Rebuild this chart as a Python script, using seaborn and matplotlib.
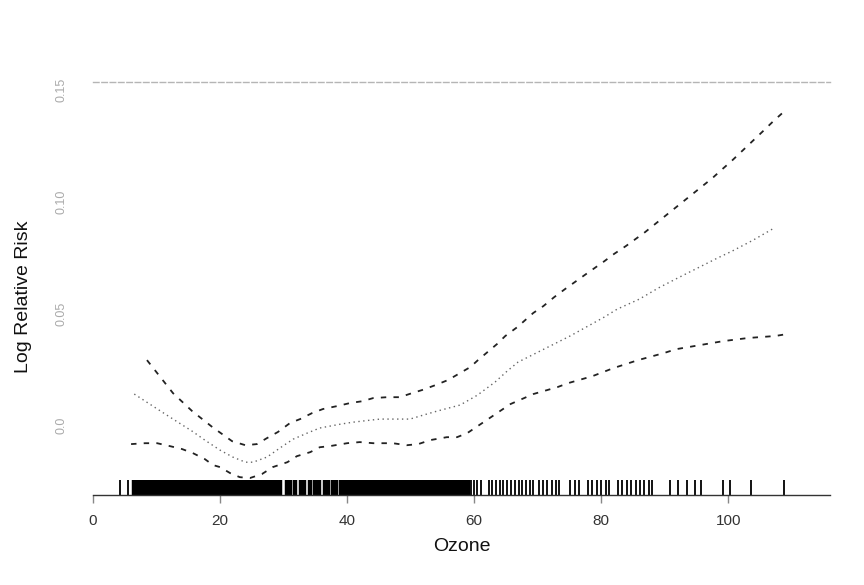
import pandas as pd
import numpy as np
import seaborn as sns
import matplotlib.pyplot as plt

# smooth fit of ozone effect: estimate and pointwise bands
fit_ozone = [6.5, 10.9, 13.1, 15.6, 17.6, 20.0, 22.0, 24.0, 25.2, 27.4, 29.4, 31.5,
             33.7, 35.7, 38.9, 40.9, 43.6, 45.2, 49.9, 52.0, 54.2, 57.8, 60.5, 63.3,
             65.2, 66.9, 68.8, 75.1, 80.5, 82.5, 86.0, 89.0, 92.0, 98.3, 100.6, 103.9, 107.2]
fit_lrr = [0.0139, 0.0058, 0.0018, -0.0027, -0.0067, -0.0112, -0.0143, -0.0166, -0.0166,
           -0.0143, -0.0103, -0.0063, -0.0036, -0.0013, 0.0004, 0.0013, 0.0022, 0.0027,
           0.0027, 0.0045, 0.0063, 0.0090, 0.0134, 0.0193, 0.0242, 0.0282, 0.0309, 0.0399,
           0.0484, 0.0519, 0.0564, 0.0614, 0.0658, 0.0748, 0.0779, 0.0828, 0.0882]

upper_ozone = [8.5, 12.6, 15.6, 18.8, 21.9, 24.0, 25.8, 27.4, 29.1, 31.0, 32.6, 34.5,
               36.2, 38.4, 40.5, 42.4, 44.1, 46.3, 48.3, 50.2, 51.8, 53.9, 55.9, 59.4,
               60.6, 63.6, 64.9, 66.8, 69.3, 70.9, 72.6, 74.3, 77.6, 80.5, 82.0, 83.9,
               86.9, 88.3, 97.5, 98.9, 100.5, 105.5, 107.1, 108.7]
upper_lrr = [0.0291, 0.0143, 0.0063, -0.0009, -0.0072, -0.0090, -0.0085, -0.0058, -0.0031,
             0.0009, 0.0027, 0.0054, 0.0072, 0.0085, 0.0099, 0.0107, 0.0121, 0.0125, 0.0125,
             0.0143, 0.0157, 0.0179, 0.0202, 0.0260, 0.0291, 0.0363, 0.0399, 0.0439, 0.0502,
             0.0533, 0.0573, 0.0609, 0.0676, 0.0734, 0.0766, 0.0802, 0.0864, 0.0896, 0.1106,
             0.1142, 0.1182, 0.1317, 0.1361, 0.1402]

lower_ozone = [6.0, 8.2, 10.1, 12.1, 14.0, 15.7, 17.6, 18.9, 20.0, 21.6, 23.1, 24.7,
               26.6, 28.3, 30.6, 32.1, 34.2, 35.7, 37.3, 40.0, 42.0, 44.1, 47.2, 49.4,
               51.2, 53.1, 55.7, 57.3, 58.9, 62.2, 63.6, 65.7, 69.3, 73.1, 74.8, 78.6,
               81.9, 85.8, 89.8, 91.8, 99.2, 103.1, 107.4, 109.3]
lower_lrr = [-0.0085, -0.0081, -0.0081, -0.0094, -0.0107, -0.0125, -0.0152, -0.0179, -0.0188,
             -0.0215, -0.0233, -0.0237, -0.0219, -0.0188, -0.0166, -0.0139, -0.0121, -0.0099,
             -0.0094, -0.0081, -0.0076, -0.0081, -0.0081, -0.0090, -0.0085, -0.0067, -0.0054,
             -0.0054, -0.0036, 0.0027, 0.0054, 0.0094, 0.0139, 0.0170, 0.0188, 0.0219, 0.0255,
             0.0291, 0.0322, 0.0340, 0.0376, 0.0390, 0.0399, 0.0408]

# observed daily ozone values (rug): the crowded middle and the sparse tails
rug_dense = [6.5, 7, 7.5, 8, 8.5, 9, 9.5, 10, 10.5, 11, 11.5, 12, 12.5, 13, 13.5, 14, 14.5,
             15, 15.5, 16, 16.5, 17, 17.5, 18, 18.5, 19, 19.5, 20, 20.5, 21, 21.5, 22, 22.5,
             23, 23.5, 24, 24.5, 25, 25.5, 26, 26.5, 27, 27.5, 28, 28.5, 29, 29.5, 30.6, 31.0,
             31.8, 32.8, 33.2, 34.1, 35.0, 35.5, 36.5, 37.0, 37.8, 38.2, 39.0, 39.4, 40, 40.5,
             41, 41.5, 42, 42.5, 43, 43.5, 44, 44.5, 45, 45.5, 46, 46.5, 47, 47.5, 48, 48.5,
             49, 49.5, 50, 50.5, 51, 51.5, 52, 52.5, 53, 53.5, 54, 54.5, 55, 55.5, 56, 56.5,
             57, 57.5, 58, 58.5, 59]
rug_sparse = [4.3, 5.5,
              59.5, 60, 60.5, 61, 62.3, 62.8, 63.4, 64, 64.6, 65.2, 65.8, 66.4, 67, 67.6, 68.2,
              68.8, 69.3, 70.2, 70.8, 71.5, 72.2, 72.9, 73.4, 75.1, 75.8, 76.5, 77.9, 78.6,
              79.3, 80, 80.7, 81.3, 82.6, 83.3, 84, 84.7, 85.4, 86.1, 86.8, 87.5,
              88.0, 90.9, 92.1, 93.5, 94.8, 95.7, 99.2, 100.2, 103.5, 108.8]

x_ticks = [0, 20, 40, 60, 80, 100]
y_ticks = [0.0, 0.05, 0.10, 0.15]
y_tick_labels = ["0.0", "0.05", "0.10", "0.15"]

sns.set_style("white")
plt.rcParams['font.family'] = ['Liberation Sans', 'DejaVu Sans']

fig = plt.figure(figsize=(8.64, 5.85), dpi=100)
ax = fig.add_axes([0.1076, 0.1538, 0.853, 0.706])

fit = pd.DataFrame({"Ozone": fit_ozone, "lrr": fit_lrr})
upper = pd.DataFrame({"Ozone": upper_ozone, "lrr": upper_lrr})
lower = pd.DataFrame({"Ozone": lower_ozone, "lrr": lower_lrr})

sns.lineplot(data=upper, x="Ozone", y="lrr", ax=ax, color="#222222", lw=1.3,
             linestyle=(0, (3, 4)), estimator=None, sort=False)
sns.lineplot(data=lower, x="Ozone", y="lrr", ax=ax, color="#222222", lw=1.3,
             linestyle=(0, (3, 4)), estimator=None, sort=False)
sns.lineplot(data=fit, x="Ozone", y="lrr", ax=ax, color="#666666", lw=1.0,
             linestyle=(0, (1, 2.5)), estimator=None, sort=False)
sns.rugplot(x=rug_dense, ax=ax, height=0.036, color="black", linewidth=3.2,
            expand_margins=False)
sns.rugplot(x=rug_sparse, ax=ax, height=0.036, color="black", linewidth=1.3,
            expand_margins=False)

ax.set_xlim(0, 116)
ax.set_ylim(-0.0313, 0.1536)

ax.set_xticks(x_ticks)
ax.set_xticklabels([str(t) for t in x_ticks], fontsize=11, color="#333333")
ax.set_yticks(y_ticks)
ax.set_yticklabels(y_tick_labels, rotation=90, va="center", fontsize=9, color="#aaaaaa")
ax.tick_params(axis="x", length=6, width=1, color="#888888", pad=8, bottom=True)
ax.tick_params(axis="y", length=0, pad=18)

ax.set_xlabel("Ozone", fontsize=14, color="#111111")
ax.set_ylabel("Log Relative Risk", fontsize=14, color="#111111")
ax.xaxis.set_label_coords(0.5, -0.103)
ax.yaxis.set_label_coords(-0.083, 0.48)

for side in ["left", "right"]:
    ax.spines[side].set_visible(False)
ax.spines["bottom"].set_color("#333333")
ax.spines["bottom"].set_linewidth(1.0)
ax.spines["top"].set_color("#b5b5b5")
ax.spines["top"].set_linewidth(1.0)
ax.spines["top"].set_linestyle((0, (4, 2)))

plt.savefig("out.png", dpi=100)
